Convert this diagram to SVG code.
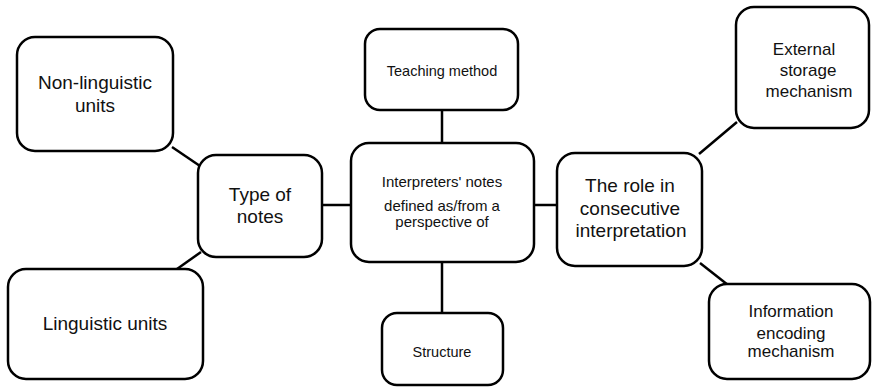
<svg xmlns="http://www.w3.org/2000/svg" width="872" height="389" viewBox="0 0 872 389">
<style>
.box{fill:#fff;stroke:#000;stroke-width:2.5}
.ln{stroke:#000;stroke-width:2.5;fill:none}
text{font-family:"Liberation Sans",Arial,sans-serif;fill:#111;text-anchor:middle}
.big{font-size:19px}
.mid{font-size:17px}
.sm{font-size:14.5px}
.ctr{font-size:15px}
</style>
<rect width="872" height="389" fill="#fff"/>
<g id="connectors">
<line class="ln" x1="172" y1="147" x2="200" y2="166"/>
<line class="ln" x1="177" y1="269" x2="201" y2="252"/>
<line class="ln" x1="322" y1="205" x2="351" y2="205"/>
<line class="ln" x1="442" y1="110" x2="442" y2="143"/>
<line class="ln" x1="442" y1="262" x2="442" y2="313"/>
<line class="ln" x1="534" y1="205" x2="557" y2="205"/>
<line class="ln" x1="699" y1="154" x2="737" y2="122"/>
<line class="ln" x1="700" y1="263" x2="728" y2="285"/>
</g>
<g id="non-linguistic">
<rect class="box" x="17" y="37" width="156" height="114" rx="18"/>
<text class="big" x="95" y="89">Non-linguistic</text>
<text class="big" x="95" y="112">units</text>
</g>
<g id="linguistic">
<rect class="box" x="8" y="269" width="195" height="110" rx="18"/>
<text class="big" x="105" y="330">Linguistic units</text>
</g>
<g id="type-of-notes">
<rect class="box" x="198" y="155" width="124" height="102" rx="18"/>
<text class="big" x="260" y="201">Type of</text>
<text class="big" x="260" y="223">notes</text>
</g>
<g id="center">
<rect class="box" x="351" y="143" width="183" height="119" rx="18"/>
<text class="ctr" x="442" y="187">Interpreters' notes</text>
<text class="ctr" x="442" y="211">defined as/from a</text>
<text class="ctr" x="442" y="227">perspective of</text>
</g>
<g id="teaching-method">
<rect class="box" x="365" y="29" width="153" height="81" rx="15"/>
<text class="sm" x="442" y="76">Teaching method</text>
</g>
<g id="structure">
<rect class="box" x="382" y="313" width="121" height="72" rx="15"/>
<text class="sm" x="442" y="357">Structure</text>
</g>
<g id="role">
<rect class="box" x="557" y="153" width="145" height="113" rx="18"/>
<text class="big" x="630" y="192">The role in</text>
<text class="big" x="630" y="215">consecutive</text>
<text class="big" x="631" y="237">interpretation</text>
</g>
<g id="external-storage">
<rect class="box" x="736" y="7" width="133" height="121" rx="18"/>
<text class="mid" x="804" y="55">External</text>
<text class="mid" x="808" y="76">storage</text>
<text class="mid" x="809" y="97">mechanism</text>
</g>
<g id="information-encoding">
<rect class="box" x="709" y="284" width="161" height="95" rx="18"/>
<text class="mid" x="791" y="317">Information</text>
<text class="mid" x="791" y="339">encoding</text>
<text class="mid" x="791" y="357">mechanism</text>
</g>
</svg>
